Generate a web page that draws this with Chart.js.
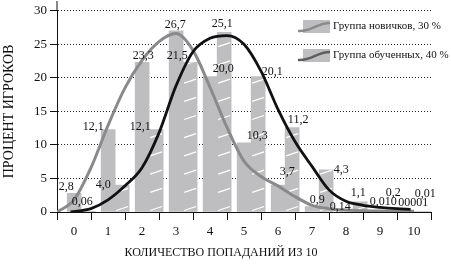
<!DOCTYPE html>
<html>
<head>
<meta charset="utf-8">
<script src="https://cdn.jsdelivr.net/npm/chart.js@4.4.0/dist/chart.umd.min.js"></script>
<style>
  html, body { margin: 0; padding: 0; background: #fff; }
</style>
</head>
<body>
<canvas id="myChart" width="451" height="264"></canvas>
<script>
// categories (number of hits out of 10)
const CATS = ["0", "1", "2", "3", "4", "5", "6", "7", "8", "9", "10"];

// bar heights as drawn in the picture (percent of players)
const NEW_PCT = [2.8, 12.3, 22.3, 27.0, 20.2, 10.3, 4.0, 0.8, 0.14, 0.01, 0.00001];
const TRAINED_PCT = [0.06, 4.0, 12.3, 22.3, 26.8, 20.2, 12.6, 6.3, 1.5, 0.2, 0.01];

// printed value labels
const NEW_TEXT = ["2,8", "12,1", "23,3", "26,7", "20,0", "10,3", "3,7", "0,9", "0,14", "0,010", "00001"];
const TRAINED_TEXT = ["0,06", "4,0", "12,1", "21,5", "25,1", "20,1", "11,2", "4,3", "1,1", "0,2", "0,01"];

// fitted curves
const NEW_CURVE_X = [-0.5, 0, 0.5, 1, 1.5, 2, 2.5, 3, 3.5, 4, 4.5, 5, 5.5, 6, 6.5, 7, 7.5, 8, 8.5, 9, 9.5, 10];
const NEW_CURVE = [0, 1.8, 6.6, 12.9, 18.5, 22.6, 25.4, 26.6, 24.1, 18.6, 12.6, 7.6, 5.3, 3.9, 2.3, 1.0, 0.5, 0.3, 0.2, 0.15, 0.1, 0.1];
const TRAINED_CURVE_X = [-0.1, 0.5, 1, 1.5, 2, 2.5, 3, 3.5, 4, 4.5, 5, 5.5, 6, 6.5, 7, 7.5, 8, 8.5, 9, 9.5, 9.9];
const TRAINED_CURVE = [0, 0.5, 1.8, 3.9, 6.6, 11.8, 18.8, 23.9, 25.9, 26.3, 25.0, 21.0, 15.3, 10.5, 6.8, 3.3, 1.6, 1.0, 0.7, 0.5, 0.4];

const SERIES = ["Группа новичков, 30 %", "Группа обученных, 40 %"];
const X_TITLE = "КОЛИЧЕСТВО ПОПАДАНИЙ ИЗ 10";
const Y_TITLE = "ПРОЦЕНТ ИГРОКОВ";

// layout / style
const FONT = '"Liberation Serif", "DejaVu Serif", serif';
const BAR_GREY = "#bebec0";
const BAR_SHIFT = 0.21;
const BAR_W = 14;
const NEW_NUDGE = [[-8, -6], [-15, -3], [1, -7], [-1, -6], [13, -8], [13, -7], [9, -13], [5, -7], [-6, -4], [3, -10], [-1, -9]];
const TRAINED_NUDGE = [[-6, -10], [-19, 0], [-16, -3], [-13, -7], [-2, -8], [14, -5], [6, -8], [15, 0], [-2, -9], [-1, -18], [-3, -18]];

const stripes = {
  id: "stripes",
  afterDatasetDraw(chart, args) {
    if (args.index !== 1) return;
    const c = chart.ctx;
    c.save();
    c.strokeStyle = "#fff";
    c.lineWidth = 1.3;
    args.meta.data.forEach(bar => {
      const p = bar.getProps(["x", "y", "base", "width"], true);
      const l = p.x - p.width / 2, r = p.x + p.width / 2;
      c.save();
      c.beginPath();
      c.rect(l, p.y, p.width, p.base - p.y);
      c.clip();
      c.beginPath();
      for (let sy = p.base - 3; sy > p.y - 5; sy -= 18.2) {
        c.moveTo(l + 1, sy + 2);
        c.lineTo(r - 1, sy - 2);
      }
      c.stroke();
      c.restore();
    });
    c.restore();
  }
};

const extras = {
  id: "extras",
  afterDraw(chart) {
    const c = chart.ctx;
    const a = chart.chartArea;
    c.save();
    // y axis line runs a bit past the top gridline
    c.strokeStyle = "#111";
    c.lineWidth = 1;
    c.beginPath();
    c.moveTo(a.left, a.top);
    c.lineTo(a.left, 1);
    c.stroke();

    // value labels
    c.font = "12px " + FONT;
    c.fillStyle = "#111";
    c.textAlign = "center";
    c.textBaseline = "middle";
    [[0, NEW_TEXT, NEW_NUDGE], [1, TRAINED_TEXT, TRAINED_NUDGE]].forEach(([di, texts, nudge]) => {
      chart.getDatasetMeta(di).data.forEach((bar, i) => {
        c.fillText(texts[i], bar.x + nudge[i][0], bar.y + nudge[i][1]);
      });
    });

    // legend
    c.font = "11px " + FONT;
    [[SERIES[0], "#8a8a8a", 20], [SERIES[1], "#5e5e5e", 49]].forEach(([txt, col, top]) => {
      c.fillStyle = BAR_GREY;
      c.fillRect(303, top, 27, 13);
      c.strokeStyle = col;
      c.lineWidth = 2.5;
      c.beginPath();
      c.moveTo(298, top + 11);
      c.bezierCurveTo(312, top + 12, 316, top + 3, 330, top + 3);
      c.stroke();
      c.fillStyle = "#111";
      c.textAlign = "left";
      c.fillText(txt, 333, top + 6);
    });

    // x axis title
    c.font = "12px " + FONT;
    c.textAlign = "center";
    c.fillText(X_TITLE, 221, 253);
    c.restore();
  }
};

const ctx = document.getElementById("myChart").getContext("2d");
new Chart(ctx, {
  type: "bar",
  data: {
    datasets: [
      {
        label: SERIES[0],
        data: NEW_PCT.map((v, i) => ({ x: i + BAR_SHIFT, y: v })),
        backgroundColor: BAR_GREY,
        borderWidth: 0,
        barThickness: BAR_W,
        order: 3
      },
      {
        label: SERIES[1],
        data: TRAINED_PCT.map((v, i) => ({ x: i + BAR_SHIFT, y: v })),
        backgroundColor: BAR_GREY,
        borderWidth: 0,
        barThickness: BAR_W,
        order: 3
      },
      {
        type: "line",
        label: SERIES[0],
        data: NEW_CURVE_X.map((x, i) => ({ x: x, y: NEW_CURVE[i] })),
        borderColor: "#8a8a8a",
        borderWidth: 3,
        pointRadius: 0,
        fill: false,
        cubicInterpolationMode: "monotone",
        order: 2
      },
      {
        type: "line",
        label: SERIES[1],
        data: TRAINED_CURVE_X.map((x, i) => ({ x: x, y: TRAINED_CURVE[i] })),
        borderColor: "#111",
        borderWidth: 2.8,
        pointRadius: 0,
        fill: false,
        cubicInterpolationMode: "monotone",
        order: 1
      }
    ]
  },
  options: {
    responsive: false,
    animation: false,
    devicePixelRatio: 1,
    events: [],
    layout: { padding: { top: 10, right: 20, left: 0, bottom: 0 } },
    plugins: {
      legend: { display: false },
      tooltip: { enabled: false }
    },
    scales: {
      x: {
        type: "linear",
        min: -0.5,
        max: 10.5,
        offset: false,
        afterFit: s => { s.height = 52; },
        ticks: {
          stepSize: 0.5,
          autoSkip: false,
          maxRotation: 0,
          padding: 4,
          color: "#111",
          font: { family: FONT, size: 13 },
          callback: v => (Number.isInteger(v) ? CATS[v] : "")
        },
        grid: {
          offset: false,
          drawOnChartArea: false,
          drawTicks: true,
          tickLength: 8,
          tickWidth: 1,
          tickColor: c => (Number.isInteger(c.tick.value) ? "rgba(0,0,0,0)" : "#111")
        },
        border: { color: "#111", width: 1 }
      },
      y: {
        min: 0,
        max: 30,
        afterFit: s => { s.width = 57; },
        ticks: {
          stepSize: 5,
          padding: 3,
          color: "#111",
          font: { family: FONT, size: 13 }
        },
        grid: {
          color: c => (c.tick.value === 0 ? "rgba(0,0,0,0)" : "#222"),
          lineWidth: 1,
          tickLength: 7,
          tickColor: "#111",
          tickBorderDash: []
        },
        border: { color: "#111", width: 1, dash: [1, 2] },
        title: {
          display: true,
          text: Y_TITLE,
          color: "#111",
          font: { family: FONT, size: 14 },
          padding: { top: 1, bottom: 0 }
        }
      }
    }
  },
  plugins: [stripes, extras]
});
</script>
</body>
</html>
